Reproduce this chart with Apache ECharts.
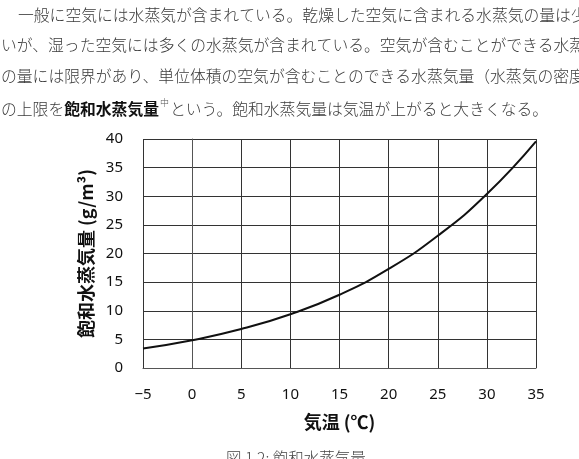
<!DOCTYPE html>
<html><head><meta charset="utf-8">
<script src="https://cdn.jsdelivr.net/npm/echarts@6/dist/echarts.min.js"></script>
<style>html,body{margin:0;padding:0;background:#fff}#c{width:579px;height:459px}</style>
</head><body><div id="c"></div>
<script>
const temps = [-5, 0, 5, 10, 15, 20, 25, 30, 35];
const vapor = [3.41, 4.85, 6.80, 9.40, 12.8, 17.3, 23.1, 30.4, 39.6];
const xTicks = [-5,0,5,10,15,20,25,30,35];
const yTicks = [0,5,10,15,20,25,30,35,40];
const xTitle = '気温 (℃)';
const yTitle = '飽和水蒸気量 (g/m³)';
const caption = '図 1.2: 飽和水蒸気量';
const para = [
  '一般に空気には水蒸気が含まれている。乾燥した空気に含まれる水蒸気の量は少',
  'いが、湿った空気には多くの水蒸気が含まれている。空気が含むことができる水蒸',
  'の量には限界があり、単位体積の空気が含むことのできる水蒸気量（水蒸気の密度'
];
const lastLine = ['の上限を', '飽和水蒸気量', '中', 'という。飽和水蒸気量は気温が上がると大きくなる。'];

const cjk = '"Noto Sans CJK JP", sans-serif';
const chart = echarts.init(document.getElementById('c'), null, {renderer:'canvas'});
const paraY = [17, 47, 78];
const graphics = para.map((t,i) => ({
  type:'text', left: i===0 ? 18 : 1, top: paraY[i]-10, silent:true,
  style:{text:t, font:'300 15.8px ' + cjk, fill:'#3a3a3a'}
}));
graphics.push({
  type:'text', left:1, top:98, silent:true,
  style:{
    text:'{n|'+lastLine[0]+'}{b|'+lastLine[1]+'}{s|'+lastLine[2]+'}{n|'+lastLine[3]+'}',
    rich:{
      n:{font:'300 15.8px ' + cjk, fill:'#3a3a3a', verticalAlign:'bottom'},
      b:{font:'bold 15.8px ' + cjk, fill:'#111', verticalAlign:'bottom'},
      s:{font:'300 9px ' + cjk, fill:'#555', verticalAlign:'top', padding:[0,1,10,1]}
    }
  }
});
graphics.push({
  type:'text', left:226, top:450, silent:true,
  style:{text:caption, font:'300 15.5px ' + cjk, fill:'#444'}
});

chart.setOption({
  animation:false,
  backgroundColor:'#fff',
  graphic: graphics,
  grid:{left:143, right:43, top:139, height:229, containLabel:false},
  xAxis:{
    type:'value', min:-5, max:35, interval:5,
    name:xTitle, nameLocation:'middle', nameGap:45,
    nameTextStyle:{fontSize:18, fontWeight:'bold', fontFamily:cjk, color:'#111'},
    axisLine:{show:true, lineStyle:{color:'#555', width:1}},
    axisTick:{show:false},
    axisLabel:{margin:19, fontSize:15, color:'#111', fontFamily:'"Noto Sans", sans-serif',
      formatter:v => String(v).replace('-', '−')},
    splitLine:{show:true, lineStyle:{color:'#333', width:1}}
  },
  yAxis:{
    type:'value', min:0, max:40, interval:5,
    name:yTitle, nameLocation:'middle', nameGap:48, nameRotate:90,
    nameTextStyle:{fontSize:18, fontWeight:'bold', fontFamily:cjk, color:'#111'},
    axisLine:{show:true, lineStyle:{color:'#555', width:1}},
    axisTick:{show:false},
    axisLabel:{margin:20, fontSize:15, color:'#111', fontFamily:'"Noto Sans", sans-serif'},
    splitLine:{show:true, lineStyle:{color:'#333', width:1}}
  },
  series:[{
    type:'line', data: temps.map((t,i)=>[t, vapor[i]]), smooth:0.5, showSymbol:false,
    lineStyle:{color:'#111', width:2}, clip:true
  }]
});
</script></body></html>
